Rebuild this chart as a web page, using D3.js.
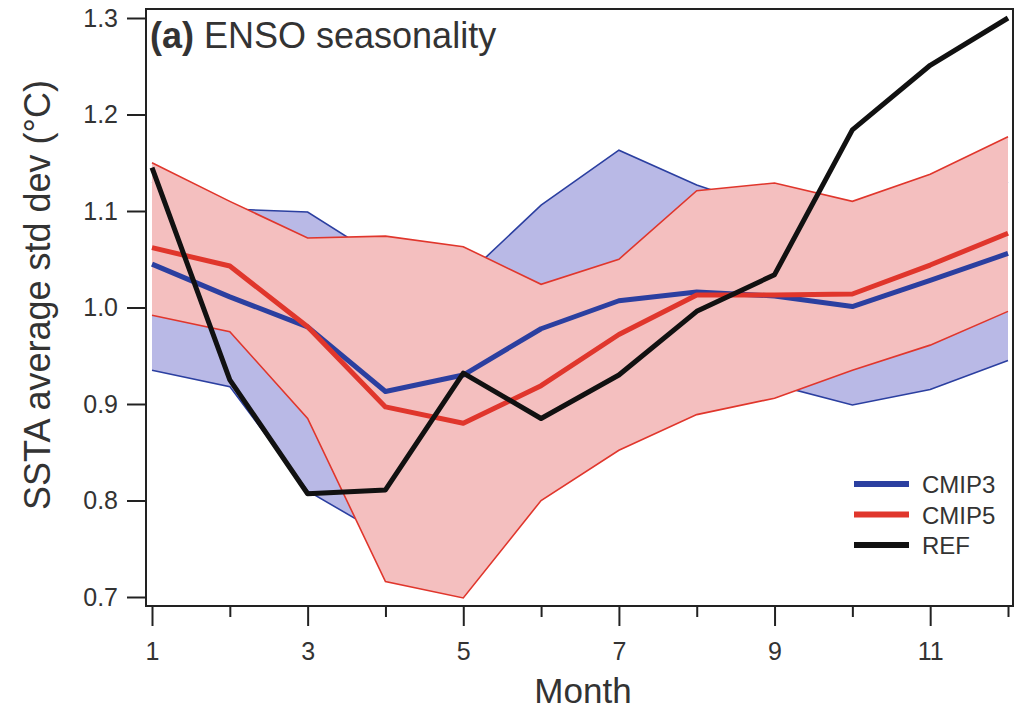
<!DOCTYPE html>
<html>
<head>
<meta charset="utf-8">
<script src="https://cdn.jsdelivr.net/npm/d3@7"></script>
<style>
body { margin: 0; background: #fff; }
text { font-family: "Liberation Sans", Arial, sans-serif; fill: #333; }
</style>
</head>
<body>
<div class="content"></div>
<script>
var months = [1,2,3,4,5,6,7,8,9,10,11,12];
var xTickLabels = [1,3,5,7,9,11];
var yTicks = [0.7,0.8,0.9,1.0,1.1,1.2,1.3];

// CMIP3 ensemble (blue)
var cmip3Mean  = [1.045,1.011,0.980,0.913,0.930,0.978,1.007,1.016,1.012,1.001,1.028,1.056];
var cmip3Upper = [1.130,1.102,1.099,1.048,1.030,1.106,1.163,1.127,1.100,1.080,1.100,1.130];
var cmip3Lower = [0.935,0.918,0.810,0.763,0.800,0.850,0.880,0.900,0.920,0.899,0.915,0.945];

// CMIP5 ensemble (red)
var cmip5Mean  = [1.062,1.043,0.980,0.897,0.880,0.919,0.972,1.013,1.013,1.014,1.044,1.077];
var cmip5Upper = [1.150,1.110,1.072,1.074,1.063,1.024,1.050,1.121,1.129,1.110,1.138,1.177];
var cmip5Lower = [0.992,0.975,0.885,0.716,0.699,0.800,0.852,0.889,0.906,0.935,0.961,0.996];

// observed reference
var refValues  = [1.145,0.925,0.807,0.811,0.932,0.885,0.930,0.996,1.034,1.184,1.251,1.300];

var legendNames = ["CMIP3","CMIP5","REF"];
var blue = "#2b3fa0", red = "#e0362c", black = "#111";

var width = 1033, height = 713;
var box = {left: 146, right: 1013, top: 9, bottom: 606};

var x = d3.scaleLinear().domain([1,12]).range([152,1008]);
var y = d3.scaleLinear().domain([0.7,1.3]).range([597,18]);

var svg = d3.select(".content").append("svg")
	.attr("width", width)
	.attr("height", height);

svg.append("rect").attr("width", width).attr("height", height).attr("fill", "#fff");

function band(up, low){
	return months.map((m,i) => ({m: m, hi: up[i], lo: low[i]}));
}
function series(vals){
	return months.map((m,i) => ({m: m, v: vals[i]}));
}

var area = d3.area().x(d => x(d.m)).y0(d => y(d.lo)).y1(d => y(d.hi));
var line = d3.line().x(d => x(d.m)).y(d => y(d.v));

var plot = svg.append("g");

// bands: blue first, red drawn opaque on top
function drawBand(up, low, fill, stroke){
	plot.append("path").datum(band(up, low))
		.attr("d", area).attr("fill", fill);
	[up, low].forEach(function(vals){
		plot.append("path").datum(series(vals))
			.attr("d", line).attr("fill", "none")
			.attr("stroke", stroke).attr("stroke-width", 1.6);
	});
}
drawBand(cmip3Upper, cmip3Lower, "#b9b9e6", blue);
drawBand(cmip5Upper, cmip5Lower, "#f4bfbf", red);

// mean lines and reference
[[cmip3Mean, blue],[cmip5Mean, red],[refValues, black]].forEach(function(s){
	plot.append("path").datum(series(s[0]))
		.attr("d", line).attr("fill", "none")
		.attr("stroke", s[1]).attr("stroke-width", 5)
		.attr("stroke-linejoin", "round");
});

// frame
svg.append("rect")
	.attr("x", box.left).attr("y", box.top)
	.attr("width", box.right - box.left).attr("height", box.bottom - box.top)
	.attr("fill", "none").attr("stroke", "#222").attr("stroke-width", 2);

// x axis: long ticks on odd months
var xAxis = svg.append("g")
	.attr("transform", "translate(0," + box.bottom + ")")
	.call(d3.axisBottom(x).tickValues(months).tickSize(20).tickPadding(16)
		.tickFormat(d => xTickLabels.indexOf(d) >= 0 ? d : ""));
xAxis.select(".domain").remove();
xAxis.selectAll(".tick line")
	.attr("y2", d => d % 2 ? 20 : 11)
	.attr("stroke", "#222").attr("stroke-width", 2);
xAxis.selectAll(".tick text")
	.style("font-size", "25px").attr("fill", "#333");

// y axis
var yAxis = svg.append("g")
	.attr("transform", "translate(" + box.left + ",0)")
	.call(d3.axisLeft(y).tickValues(yTicks).tickSize(19).tickPadding(9).tickFormat(d3.format(".1f")));
yAxis.select(".domain").remove();
yAxis.selectAll(".tick line").attr("stroke", "#222").attr("stroke-width", 2);
yAxis.selectAll(".tick text").style("font-size", "25px").attr("fill", "#333");

// axis titles
svg.append("text")
	.attr("x", 583).attr("y", 703)
	.attr("text-anchor", "middle")
	.style("font-size", "35px")
	.text("Month");

svg.append("text")
	.attr("transform", "translate(50,295) rotate(-90)")
	.attr("text-anchor", "middle")
	.style("font-size", "36px")
	.text("SSTA average std dev (°C)");

// panel title
var title = svg.append("text").attr("x", 150).attr("y", 48).style("font-size", "36px");
title.append("tspan").style("font-weight", "bold").text("(a)");
title.append("tspan").text(" ENSO seasonality");

// legend
var legend = svg.append("g").attr("transform", "translate(854,484)");
var legendColor = d3.scaleOrdinal().domain(legendNames).range([blue, red, black]);
var rows = legend.selectAll("g").data(legendNames).enter().append("g")
	.attr("transform", (d,i) => "translate(0," + i*30.5 + ")");
rows.append("line")
	.attr("x1", 0).attr("x2", 55)
	.attr("stroke", d => legendColor(d)).attr("stroke-width", 6);
rows.append("text")
	.attr("x", 68).attr("y", 9)
	.style("font-size", "24px")
	.text(d => d);
</script>
</body>
</html>
